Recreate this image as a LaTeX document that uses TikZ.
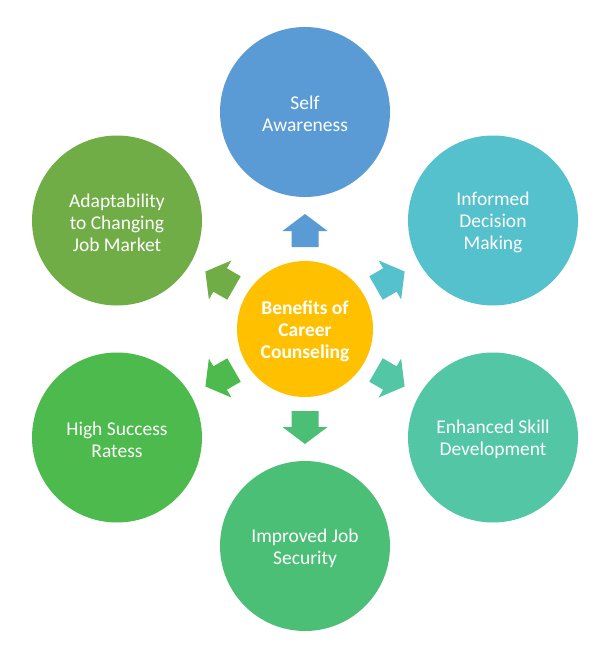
\documentclass[tikz,border=0pt]{standalone}
\usepackage{fontspec}
\setmainfont{Carlito}
\definecolor{cBlue}{HTML}{5B9BD5}
\definecolor{cCyan}{HTML}{54C1CD}
\definecolor{cTeal}{HTML}{52C6A5}
\definecolor{cGreenA}{HTML}{4CBF77}
\definecolor{cGreenB}{HTML}{4CBA4C}
\definecolor{cOlive}{HTML}{70AD47}
\definecolor{cGold}{HTML}{FFC000}
\tikzset{
  outer/.style={circle, minimum size=170pt, inner sep=0pt},
  hub/.style={circle, minimum size=136pt, inner sep=0pt, fill=cGold},
  lbl/.style={text=white, align=center, inner sep=0pt, font=\fontsize{19.5}{22}\selectfont},
  hublbl/.style={lbl, font=\fontsize{19.5}{22}\selectfont\bfseries}
}
\newcommand{\blockarr}[2]{%
  \begin{scope}[shift={(center)}, rotate=#1]
    \fill[#2] (82,-13.5) -- (98,-13.5) -- (98,-22.5) -- (115,0) -- (98,22.5) -- (98,13.5) -- (82,13.5) -- cycle;
  \end{scope}}
\begin{document}
\begin{tikzpicture}[x=1pt,y=-1pt]
\useasboundingbox (0,0) rectangle (612,658);
\fill[white] (0,0) rectangle (612,658);
\node[hub] (center) at (305,329) {};
\node[outer, fill=cBlue]   (self)  at (305,112)   {};
\node[outer, fill=cCyan]   (inf)   at (493,220.5) {};
\node[outer, fill=cTeal]   (enh)   at (493,437.5) {};
\node[outer, fill=cGreenA] (imp)   at (305,546)   {};
\node[outer, fill=cGreenB] (high)  at (117,437.5) {};
\node[outer, fill=cOlive]  (adapt) at (117,220.5) {};
\node[hublbl] (centerT) at ([yshift=-2pt]center.center) {Benefits of\\Career\\Counseling};
\node[lbl] (selfT)  at ([yshift=-2pt]self.center)  {Self\\Awareness};
\node[lbl] (infT)   at ([yshift=-2pt]inf.center)   {Informed\\Decision\\Making};
\node[lbl] (enhT)   at ([yshift=-2pt]enh.center)   {Enhanced Skill\\Development};
\node[lbl] (impT)   at ([yshift=-2pt]imp.center)   {Improved Job\\Security};
\node[lbl] (highT)  at ([yshift=-2pt]high.center)  {High Success\\Ratess};
\node[lbl] (adaptT) at ([yshift=-2pt]adapt.center) {Adaptability\\to Changing\\Job Market};
\blockarr{90}{cBlue}
\blockarr{30}{cCyan}
\blockarr{-30}{cTeal}
\blockarr{-90}{cGreenA}
\blockarr{210}{cGreenB}
\blockarr{150}{cOlive}
\end{tikzpicture}
\end{document}
